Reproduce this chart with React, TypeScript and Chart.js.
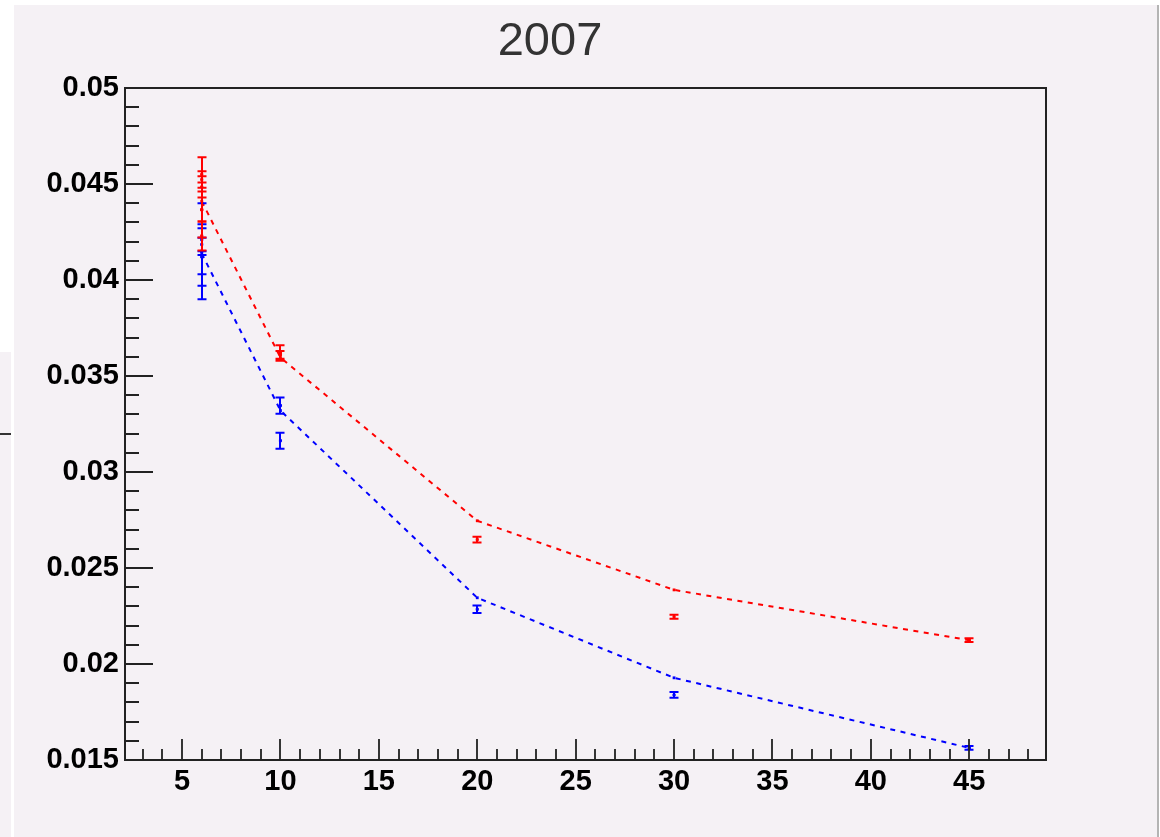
import React, { useEffect, useRef } from "react";
import { Chart, registerables } from "chart.js";

Chart.register(...registerables);

// ---- data ----
const TITLE = "2007";
const X_LINE = [6, 10, 20, 30, 45];
const RED_LINE = [0.0441, 0.03596, 0.02746, 0.02386, 0.02124];
const BLUE_LINE = [0.04138, 0.0332, 0.02345, 0.01928, 0.01563];

const RED_PT_X = [6, 6, 6, 6, 6, 6, 10, 10, 20, 30, 45];
const RED_PT_Y = [0.0455, 0.04523, 0.04485, 0.04367, 0.0423, 0.04365, 0.0362, 0.0361, 0.02648, 0.02246, 0.02124];
const RED_PT_ERR = [0.00089, 0.00043, 0.00055, 0.00063, 0.00076, 0.00143, 0.0004, 0.0002, 0.00015, 0.0001, 0.0001];

const BLUE_PT_X = [6, 6, 6, 6, 6, 10, 10, 20, 30, 45];
const BLUE_PT_Y = [0.0415, 0.0415, 0.0412, 0.0421, 0.04185, 0.03346, 0.03163, 0.02285, 0.01839, 0.01563];
const BLUE_PT_ERR = [0.0025, 0.0012, 0.0015, 0.0008, 0.00035, 0.00042, 0.00042, 0.0002, 0.00015, 0.0001];

const X_TICKS = [5, 10, 15, 20, 25, 30, 35, 40, 45];
const X_TICK_LABELS = ["5", "10", "15", "20", "25", "30", "35", "40", "45"];
const Y_TICKS = [0.015, 0.02, 0.025, 0.03, 0.035, 0.04, 0.045, 0.05];
const Y_TICK_LABELS = ["0.015", "0.02", "0.025", "0.03", "0.035", "0.04", "0.045", "0.05"];
const X_MIN = 2.1;
const X_MAX = 48.9;
const Y_MIN = 0.015;
const Y_MAX = 0.05;

const RED = "#ff0000";
const BLUE = "#0000ff";
const BG = "rgb(245,241,245)";
const FONT = '"Liberation Sans", Arial, Helvetica, sans-serif';

const W = 1143;
const H = 832;

const framePlugin = {
  id: "rootFrame",
  afterDraw(chart: any) {
    const { ctx, chartArea: a, scales } = chart;
    const xs = scales.x;
    const ys = scales.y;
    ctx.save();
    // title
    ctx.fillStyle = "#333333";
    ctx.font = `47px ${FONT}`;
    ctx.textAlign = "center";
    ctx.textBaseline = "alphabetic";
    ctx.fillText(TITLE, 536, 50);
    // frame
    ctx.strokeStyle = "#222222";
    ctx.lineWidth = 2;
    ctx.strokeRect(a.left, a.top, a.right - a.left, a.bottom - a.top);
    // y ticks
    ctx.lineWidth = 1.8;
    ctx.beginPath();
    for (let i = 15; i <= 50; i++) {
      const v = i / 1000;
      const py = Math.round(ys.getPixelForValue(v));
      const len = i % 5 === 0 ? 28 : 14;
      ctx.moveTo(a.left, py);
      ctx.lineTo(a.left + len, py);
    }
    // x ticks
    for (let i = 3; i <= 48; i++) {
      const px = Math.round(xs.getPixelForValue(i));
      const len = i % 5 === 0 ? 21 : 11;
      ctx.moveTo(px, a.bottom);
      ctx.lineTo(px, a.bottom - len);
    }
    ctx.stroke();
    ctx.restore();
  },
};

const errorBarPlugin = {
  id: "errorBars",
  afterDatasetsDraw(chart: any) {
    const { ctx, scales } = chart;
    const xs = scales.x;
    const ys = scales.y;
    ctx.save();
    chart.data.datasets.forEach((ds: any) => {
      if (!ds.errorBars) return;
      ctx.strokeStyle = ds.borderColor;
      ctx.lineWidth = 2;
      ctx.beginPath();
      ds.data.forEach((d: any) => {
        const px = Math.round(xs.getPixelForValue(d.x));
        const y1 = ys.getPixelForValue(d.y + d.err);
        const y2 = ys.getPixelForValue(d.y - d.err);
        ctx.moveTo(px, y1);
        ctx.lineTo(px, y2);
        ctx.moveTo(px - 4.5, y1);
        ctx.lineTo(px + 4.5, y1);
        ctx.moveTo(px - 4.5, y2);
        ctx.lineTo(px + 4.5, y2);
      });
      ctx.stroke();
    });
    ctx.restore();
  },
};

export default function App() {
  const ref = useRef<HTMLCanvasElement | null>(null);

  useEffect(() => {
    if (!ref.current) return;
    const lineData = (ys: number[]) => X_LINE.map((x, i) => ({ x, y: ys[i] }));
    const ptData = (xs: number[], ys: number[], es: number[]) =>
      xs.map((x, i) => ({ x, y: ys[i], err: es[i] }));

    const chart = new Chart(ref.current, {
      type: "scatter",
      data: {
        datasets: [
          {
            label: "blue points",
            data: ptData(BLUE_PT_X, BLUE_PT_Y, BLUE_PT_ERR),
            borderColor: BLUE,
            backgroundColor: BLUE,
            pointRadius: 1.5,
            pointStyle: "rect",
            showLine: false,
            errorBars: true,
          } as any,
          {
            label: "red points",
            data: ptData(RED_PT_X, RED_PT_Y, RED_PT_ERR),
            borderColor: RED,
            backgroundColor: RED,
            pointRadius: 1.5,
            pointStyle: "rect",
            showLine: false,
            errorBars: true,
          } as any,
          {
            label: "blue line",
            data: lineData(BLUE_LINE),
            borderColor: BLUE,
            backgroundColor: BLUE,
            borderWidth: 2,
            borderDash: [5, 5.5],
            showLine: true,
            pointRadius: 2,
            pointBorderWidth: 0,
            pointStyle: "rect",
          },
          {
            label: "red line",
            data: lineData(RED_LINE),
            borderColor: RED,
            backgroundColor: RED,
            borderWidth: 2,
            borderDash: [5, 5.5],
            showLine: true,
            pointRadius: 2,
            pointBorderWidth: 0,
            pointStyle: "rect",
          },
        ],
      },
      options: {
        responsive: false,
        animation: false,
        devicePixelRatio: 1,
        layout: { padding: { left: 0, top: 83, right: W - 1032, bottom: 0 } },
        plugins: {
          legend: { display: false },
          title: { display: false },
          tooltip: { enabled: false },
        },
        scales: {
          x: {
            type: "linear",
            min: X_MIN,
            max: X_MAX,
            grid: { display: false, drawTicks: false },
            border: { display: false },
            afterBuildTicks: (s: any) => {
              s.ticks = X_TICKS.map((value) => ({ value }));
            },
            afterFit: (s: any) => {
              s.height = H - 755;
            },
            ticks: {
              autoSkip: false,
              maxRotation: 0,
              padding: 5,
              color: "#000",
              font: { family: FONT, size: 29, weight: "bold" },
              callback: (_v: any, i: number) => X_TICK_LABELS[i],
            },
          },
          y: {
            type: "linear",
            min: Y_MIN,
            max: Y_MAX,
            grid: { display: false, drawTicks: false },
            border: { display: false },
            afterBuildTicks: (s: any) => {
              s.ticks = Y_TICKS.map((value) => ({ value }));
            },
            afterFit: (s: any) => {
              s.width = 111;
            },
            ticks: {
              autoSkip: false,
              padding: 6,
              color: "#000",
              font: { family: FONT, size: 29, weight: "bold" },
              callback: (_v: any, i: number) => Y_TICK_LABELS[i],
            },
          },
        },
      } as any,
      plugins: [errorBarPlugin, framePlugin],
    });
    return () => chart.destroy();
  }, []);

  return (
    <div
      style={{
        position: "fixed",
        left: 0,
        top: 0,
        width: 1160,
        height: 837,
        background: "#ffffff",
        overflow: "hidden",
      }}
    >
      <div
        style={{
          position: "absolute",
          left: 0,
          top: 352,
          width: 11,
          height: 485,
          background: BG,
        }}
      >
        <div
          style={{
            position: "absolute",
            left: 0,
            top: 81,
            width: 11,
            height: 2,
            background: "#333",
          }}
        />
      </div>
      <div
        style={{
          position: "absolute",
          left: 14,
          top: 5,
          width: W,
          height: H,
          background: BG,
          borderRight: "2px solid #b4b4b4",
        }}
      >
        <canvas ref={ref} width={W} height={H} style={{ display: "block", width: W, height: H }} />
      </div>
    </div>
  );
}
